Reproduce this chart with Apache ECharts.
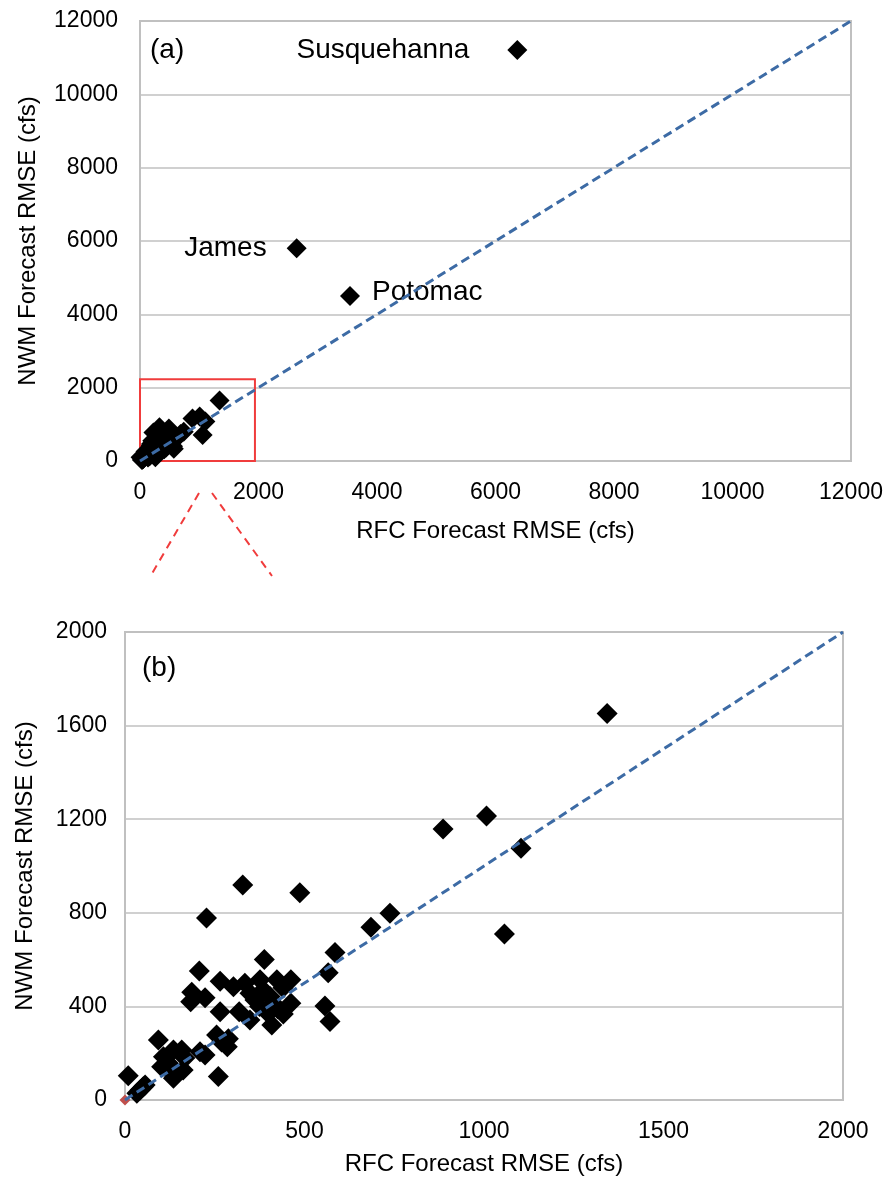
<!DOCTYPE html>
<html>
<head>
<meta charset="utf-8">
<script src="https://cdn.jsdelivr.net/npm/echarts@6/dist/echarts.min.js"></script>
<style>
  html, body { margin: 0; padding: 0; background: #fff; }
  #chart { width: 893px; height: 1181px; }
</style>
</head>
<body>
<div id="chart"></div>
<script>
// small basins (RFC RMSE, NWM RMSE) in cfs
const basinRfc = [1343, 1007, 886, 1103, 1057, 738, 685, 585, 566, 557, 571, 487, 328, 227, 388,
  207, 265, 302, 334, 376, 423, 462, 186, 223, 183, 348, 362, 404, 385, 413, 462, 441, 265, 318, 348, 399, 409, 425, 375, 440,
  255, 288, 285, 269, 93, 135, 158, 209, 223, 107, 121, 102, 130, 135, 162, 167, 260, 56, 42, 33, 9, 51];
const basinNwm = [1652, 1214, 1158, 1076, 709, 798, 738, 630, 544, 402, 335, 886, 919, 778, 600,
  551, 508, 484, 499, 514, 514, 514, 461, 437, 420, 456, 427, 442, 470, 413, 413, 368, 377, 377, 342, 370, 320, 390, 400, 480,
  278, 262, 228, 248, 256, 214, 214, 206, 192, 185, 157, 142, 114, 93, 128, 179, 100, 64, 43, 29, 104, 57];

// large rivers, labelled in panel (a)
const riverNames = ['Susquehanna', 'James', 'Potomac'];
const riverRfc = [6368, 2644, 3544];
const riverNwm = [11208, 5800, 4500];

// tick labels
const ticksA = [0, 2000, 4000, 6000, 8000, 10000, 12000];
const ticksBx = [0, 500, 1000, 1500, 2000];
const ticksBy = [0, 400, 800, 1200, 1600, 2000];

// 1:1 line end points
const oneToOneA = [[0, 0], [12000, 12000]];
const oneToOneB = [[0, 0], [2000, 2000]];
const zoomBox = [[-20, 0], [1940, 2230]];

const basinPts = basinRfc.map((v, i) => [v, basinNwm[i]]);
const riverPts = riverRfc.map((v, i) => ({ name: riverNames[i], value: [v, riverNwm[i]] }));

const FONT = 'Liberation Sans';
const gray = '#c0c0c0';
const blue = '#3D6BA5';
const red = '#F03C3C';
const ink = '#000';

function valueAxis(ticks, gridIndex, margin, extra) {
  return Object.assign({
    type: 'value',
    gridIndex: gridIndex,
    min: ticks[0],
    max: ticks[ticks.length - 1],
    interval: ticks[1] - ticks[0],
    axisTick: { show: false },
    axisLine: { show: true, lineStyle: { color: gray, width: 2 } },
    axisLabel: { color: ink, fontSize: 23, fontFamily: FONT, margin: margin, formatter: v => String(v) },
    nameLocation: 'middle',
    nameTextStyle: { color: ink, fontSize: 24, fontFamily: FONT }
  }, extra);
}

const chart = echarts.init(document.getElementById('chart'));
const labelRight = riverNames.map(n => n === 'Potomac');
const dot = { color: '#000', opacity: 1 };

chart.setOption({
  animation: false,
  title: [
    { text: '(a)', left: 145, top: 31, textStyle: { fontSize: 28, fontWeight: 'normal', fontFamily: FONT, color: ink } },
    { text: '(b)', left: 137, top: 649, textStyle: { fontSize: 28, fontWeight: 'normal', fontFamily: FONT, color: ink } }
  ],
  grid: [
    { left: 140, top: 21, width: 711, height: 440, show: true, borderColor: gray, borderWidth: 2 },
    { left: 125, top: 632, width: 718, height: 468, show: true, borderColor: gray, borderWidth: 2 }
  ],
  xAxis: [
    valueAxis(ticksA, 0, 20, { name: 'RFC Forecast RMSE (cfs)', nameGap: 58, splitLine: { show: false } }),
    valueAxis(ticksBx, 1, 20, { name: 'RFC Forecast RMSE (cfs)', nameGap: 52, splitLine: { show: false } })
  ],
  yAxis: [
    valueAxis(ticksA, 0, 22, { name: 'NWM Forecast RMSE (cfs)', nameGap: 100, splitLine: { lineStyle: { color: gray, width: 1.5 } } }),
    valueAxis(ticksBy, 1, 18, { name: 'NWM Forecast RMSE (cfs)', nameGap: 88, splitLine: { lineStyle: { color: gray, width: 1.5 } } })
  ],
  series: [
    {
      type: 'scatter', xAxisIndex: 0, yAxisIndex: 0,
      symbol: 'diamond', symbolSize: 20,
      itemStyle: dot,
      data: basinPts,
      markArea: {
        silent: true,
        itemStyle: { color: 'rgba(0,0,0,0)', borderColor: red, borderWidth: 2, opacity: 1 },
        data: [[{ coord: zoomBox[0] }, { coord: zoomBox[1] }]]
      }
    },
    {
      type: 'scatter', xAxisIndex: 0, yAxisIndex: 0,
      symbol: 'diamond', symbolSize: 20,
      itemStyle: dot,
      data: riverPts.map((p, i) => Object.assign({}, p, {
        label: {
          show: true,
          formatter: '{b}',
          position: labelRight[i] ? 'right' : 'left',
          distance: labelRight[i] ? 12 : (p.name === 'James' ? 20 : 38),
          offset: labelRight[i] ? [0, -4] : [0, 0],
          fontSize: 28, fontFamily: FONT, color: ink
        }
      }))
    },
    {
      type: 'line', xAxisIndex: 0, yAxisIndex: 0,
      data: oneToOneA, symbol: 'none', z: 5,
      lineStyle: { color: blue, width: 3, type: [9, 5] }
    },
    {
      type: 'scatter', xAxisIndex: 1, yAxisIndex: 1,
      symbol: 'diamond', symbolSize: 21, clip: true,
      itemStyle: dot,
      data: basinPts
    },
    {
      type: 'scatter', xAxisIndex: 1, yAxisIndex: 1,
      symbol: 'diamond', symbolSize: 11, clip: false,
      itemStyle: { color: '#C0504D', opacity: 1 },
      data: [oneToOneB[0]]
    },
    {
      type: 'line', xAxisIndex: 1, yAxisIndex: 1,
      data: oneToOneB, symbol: 'none', z: 5,
      lineStyle: { color: blue, width: 3, type: [9, 5] }
    }
  ],
  graphic: [
    { type: 'line', shape: { x1: 199, y1: 493, x2: 150, y2: 577 }, style: { stroke: red, lineWidth: 2, lineDash: [8, 6] } },
    { type: 'line', shape: { x1: 212, y1: 493, x2: 272, y2: 576 }, style: { stroke: red, lineWidth: 2, lineDash: [8, 6] } }
  ]
});
</script>
</body>
</html>
